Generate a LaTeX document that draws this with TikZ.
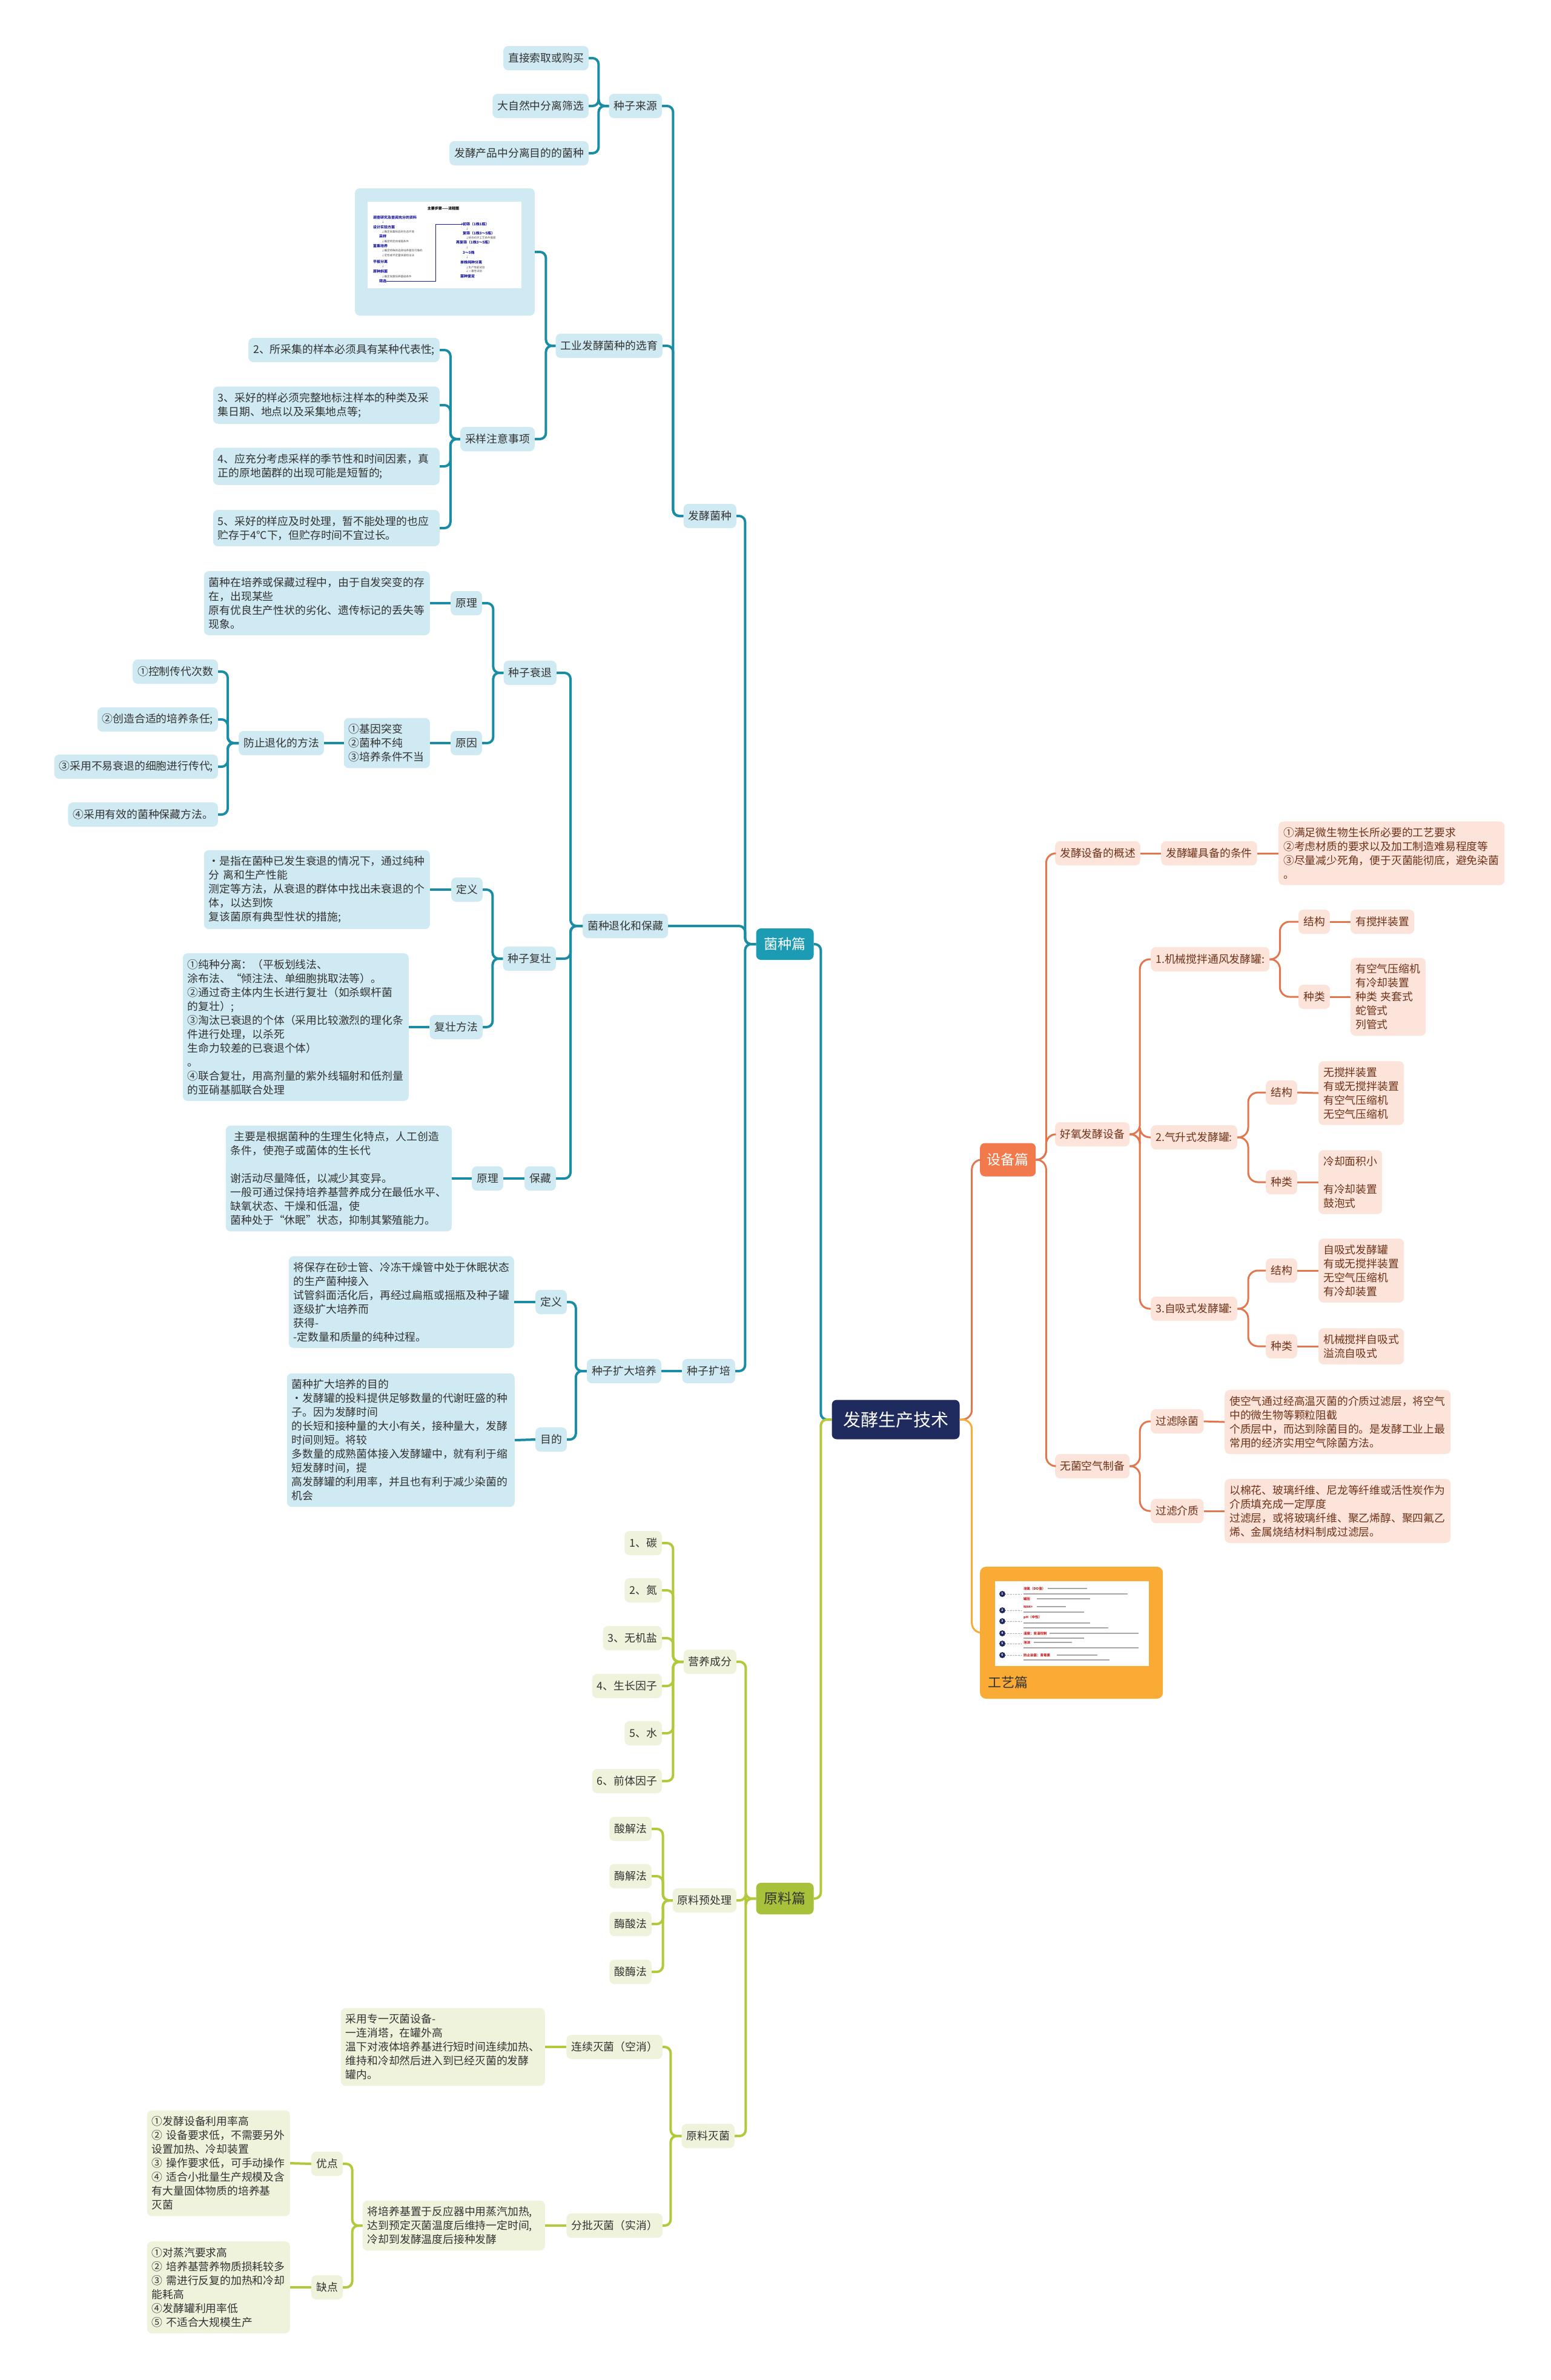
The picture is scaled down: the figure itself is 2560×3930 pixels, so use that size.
\documentclass[tikz,border=0pt]{standalone}
\usepackage{fontspec}
\setmainfont{Noto Sans CJK SC}
\definecolor{navy}{RGB}{31,43,94}
\definecolor{tealline}{RGB}{26,140,163}
\definecolor{tealmain}{RGB}{28,155,181}
\definecolor{tealfill}{RGB}{207,234,242}
\definecolor{orangeline}{RGB}{226,119,77}
\definecolor{orangemain}{RGB}{242,121,75}
\definecolor{orangefill}{RGB}{253,228,218}
\definecolor{orangetext}{RGB}{110,50,25}
\definecolor{greenline}{RGB}{179,200,58}
\definecolor{greenmain}{RGB}{167,193,58}
\definecolor{greenfill}{RGB}{239,243,220}
\definecolor{amber}{RGB}{249,171,54}
\definecolor{textdark}{RGB}{51,51,51}
\definecolor{flowblue}{RGB}{26,26,160}
\definecolor{flowred}{RGB}{200,30,30}
\begin{document}
\begin{tikzpicture}[x=1pt,y=-1pt,
  box/.style={rounded corners=8pt, inner xsep=8pt, inner ysep=0pt, minimum height=40pt, font=\fontsize{17.8}{23}\selectfont},
  tn/.style={box, fill=tealfill, text=textdark},
  tb/.style={tn, align=left, inner ysep=10pt},
  on/.style={box, fill=orangefill, text=orangetext},
  ob/.style={on, align=left, inner ysep=10pt},
  gn/.style={box, fill=greenfill, text=textdark},
  gb/.style={gn, align=left, inner ysep=10pt},
  tl/.style={draw=tealline, line width=4pt, rounded corners=10pt},
  ol/.style={draw=orangeline, line width=3pt, rounded corners=16pt},
  gl/.style={draw=greenline, line width=4pt, rounded corners=10pt},
  main/.style={rounded corners=8pt, minimum height=52pt, inner xsep=10pt, font=\fontsize{23}{28}\selectfont},
  fc/.style={text=flowblue, font=\fontsize{6}{7}\selectfont\bfseries, anchor=west, inner sep=0pt},
  fs/.style={text=black!70, font=\fontsize{4.5}{5}\selectfont, anchor=west, inner sep=0pt}
]
\useasboundingbox[fill=white] (0,0) rectangle (2560,3930);

% Centre and main branches
\node[main, fill=navy, text=white, minimum width=211pt, minimum height=65pt, font=\fontsize{29}{32}\selectfont] (zhongxin) at (1479,2344) {发酵生产技术};
\node[main, fill=tealmain, text=white, minimum width=95pt] (junzhong) at (1296,1559) {菌种篇};
\node[main, fill=orangemain, text=white, minimum width=92pt, minimum height=55pt, anchor=west] (shebei) at (1618,1915) {设备篇};
\node[main, fill=greenmain, text=textdark, minimum width=95pt] (yuanliao) at (1296,3135) {原料篇};
\node[fill=amber, rounded corners=10pt, minimum width=302pt, minimum height=218pt, anchor=west] (gongyi) at (1618,2696) {};

% 菌种篇
\node[tn, anchor=east] (fajiaojunzhong) at (1216,852) {发酵菌种};
\node[tn, anchor=east] (laiyuan) at (1093,175) {种子来源};
\node[tn, anchor=east] (suoqu) at (972,96) {直接索取或购买};
\node[tn, anchor=east] (ziran) at (972,175) {大自然中分离筛选};
\node[tn, anchor=east] (chanpin) at (972,253) {发酵产品中分离目的的菌种};
\node[tn, anchor=east] (xuanyu) at (1094,571) {工业发酵菌种的选育};
\node[tn, minimum width=297pt, minimum height=210pt] (liucheng) at (734.5,416) {};
\node[tn, anchor=east] (caiyang) at (883,725) {采样注意事项};
\node[tn, anchor=east] (cy2) at (726,578) {2、所采集的样本必须具有某种代表性;};
\node[tb, anchor=east, text width=358pt] (cy3) at (726,669) {3、采好的样必须完整地标注样本的种类及采\\集日期、地点以及采集地点等;};
\node[tb, anchor=east, text width=358pt] (cy4) at (726,770) {4、应充分考虑采样的季节性和时间因素，真\\正的原地菌群的出现可能是短暂的;};
\node[tb, anchor=east, text width=358pt] (cy5) at (726,872) {5、采好的样应及时处理，暂不能处理的也应\\贮存于4°C下，但贮存时间不宜过长。};

\node[tn, anchor=east] (tuihua) at (1103,1529) {菌种退化和保藏};
\node[tn, anchor=east] (shuaitui) at (919,1111) {种子衰退};
\node[tn, anchor=east] (yuanli) at (796,996) {原理};
\node[tb, anchor=east, text width=357pt] (yuanlitxt) at (710,996) {菌种在培养或保藏过程中，由于自发突变的存\\在，出现某些\\原有优良生产性状的劣化、遗传标记的丢失等\\现象。};
\node[tn, anchor=east] (yuanyin) at (796,1227) {原因};
\node[tb, anchor=east, text width=126pt] (yuanyintxt) at (710,1227) {①基因突变\\②菌种不纯\\③培养条件不当};
\node[tn, anchor=east] (fangzhi) at (535,1227) {防止退化的方法};
\node[tn, anchor=east] (fz1) at (360,1109) {①控制传代次数};
\node[tn, anchor=east] (fz2) at (360,1188) {②创造合适的培养条任;};
\node[tn, anchor=east] (fz3) at (360,1266) {③采用不易衰退的细胞进行传代;};
\node[tn, anchor=east] (fz4) at (360,1345) {④采用有效的菌种保藏方法。};
\node[tn, anchor=east] (fuzhuang) at (918,1583) {种子复壮};
\node[tn, anchor=east] (dingyi) at (797,1469) {定义};
\node[tb, anchor=east, text width=357pt] (dingyitxt) at (710,1469) {•是指在菌种已发生衰退的情况下，通过纯种\\分 离和生产性能\\测定等方法，从衰退的群体中找出未衰退的个\\体，以达到恢\\复该菌原有典型性状的措施;};
\node[tn, anchor=east] (fangfa) at (797,1696) {复壮方法};
\node[tb, anchor=east, text width=357pt] (fangfatxt) at (675,1696) {①纯种分离：（平板划线法、\\涂布法、“倾注法、单细胞挑取法等）。\\②通过奇主体内生长进行复壮（如杀螟杆菌\\的复壮）;\\③淘汰已衰退的个体（采用比较激烈的理化条\\件进行处理，以杀死\\生命力较差的已衰退个体）\\。\\④联合复壮，用高剂量的紫外线辐射和低剂量\\的亚硝基胍联合处理};
\node[tn, anchor=east] (baocang) at (918,1946) {保藏};
\node[tn, anchor=east] (bcyuanli) at (831,1946) {原理};
\node[tb, anchor=east, text width=357pt] (bcyuanlitxt) at (746,1946) {\ 主要是根据菌种的生理生化特点，人工创造\\条件，使孢子或菌体的生长代\\\mbox{}\\谢活动尽量降低，以减少其变异。\\一般可通过保持培养基营养成分在最低水平、\\缺氧状态、干燥和低温，使\\菌种处于“休眠”状态，抑制其繁殖能力。};

\node[tn, anchor=east] (kuopei) at (1214,2264) {种子扩培};
\node[tn, anchor=east] (kuoda) at (1092,2264) {种子扩大培养};
\node[tn, anchor=east] (kddingyi) at (936,2150) {定义};
\node[tb, anchor=east, text width=356pt] (kddingyitxt) at (849,2150) {将保存在砂士管、冷冻干燥管中处于休眠状态\\的生产菌种接入\\试管斜面活化后，再经过扁瓶或摇瓶及种子罐\\逐级扩大培养而\\获得-\\-定数量和质量的纯种过程。};
\node[tn, anchor=east] (mudi) at (936,2377) {目的};
\node[tb, anchor=east, text width=360pt] (muditxt) at (850,2378) {菌种扩大培养的目的\\•发酵罐的投料提供足够数量的代谢旺盛的种\\子。因为发酵时间\\的长短和接种量的大小有关，接种量大，发酵\\时间则短。将较\\多数量的成熟菌体接入发酵罐中，就有利于缩\\短发酵时间，提\\高发酵罐的利用率，并且也有利于减少染菌的\\机会};

% flow chart picture
\fill[white] (607,333) rectangle (861,476);
\node[inner sep=0pt, font=\fontsize{6}{7}\selectfont\bfseries] (lctitle) at (732,344) {主要步骤——流程图};
\node[fc] (lc1) at (616,359) {调查研究及查阅充分的资料};
\node[fs] at (630,367) {↓};
\node[fc] (lc2) at (616,375) {设计实验方案};
\node[fs] at (630,383) {↓确定采集样品的生态环境};
\node[fc] (lc3) at (626,390) {采样};
\node[fs] at (630,399) {↓确定特定的增殖条件};
\node[fc] (lc4) at (616,406) {富集培养};
\node[fs] at (630,414) {↓确定特殊的选择培养基及可靠的};
\node[fs] at (630,422) {↓定性或半定量快速检出法};
\node[fc] (lc5) at (616,432) {平板分离};
\node[fs] at (630,440) {↓};
\node[fc] (lc6) at (616,448) {原种斜面};
\node[fs] at (630,457) {↓确定发酵培养基础条件};
\node[fc] (lc7) at (626,464) {筛选};
\node[fc] (lc8) at (764,370) {初筛（1株1瓶）};
\node[fs] at (769,378) {↓};
\node[fc] (lc9) at (764,385) {复筛（1株3～5瓶）};
\node[fs] at (769,393) {↓结合初步工艺条件摸索};
\node[fc] (lc10) at (753,400) {再复筛（1株3～5瓶）};
\node[fs] at (769,409) {↓};
\node[fc] (lc11) at (764,417) {3～5株};
\node[fs] at (769,425) {↓};
\node[fc] (lc12) at (760,433) {单株纯种分离};
\node[fs] at (769,442) {↓生产性能试验};
\node[fs] at (769,448) {↓一毒性试验};
\node[fc] (lc13) at (760,456) {菌种鉴定};
\draw[flowblue, line width=0.7pt, ->] (lc7.east) -- (719,464) -- (719,370) -- (lc8.west);

% 设备篇
\node[on, anchor=west] (gaishu) at (1742,1409) {发酵设备的概述};
\node[on, anchor=west] (tiaojian) at (1917,1409) {发酵罐具备的条件};
\node[ob, anchor=west, text width=357pt] (tiaojiantxt) at (2111,1409) {①满足微生物生长所必要的工艺要求\\②考虑材质的要求以及加工制造难易程度等\\③尽量减少死角，便于灭菌能彻底，避免染菌\\。};
\node[on, anchor=west] (haoyang) at (1742,1873) {好氧发酵设备};
\node[on, anchor=west] (jixie) at (1900,1584) {1.机械搅拌通风发酵罐:};
\node[on, anchor=west] (jxjg) at (2144,1522) {结构};
\node[on, anchor=west] (jxjgtxt) at (2230,1522) {有搅拌装置};
\node[on, anchor=west] (jxzl) at (2144,1646) {种类};
\node[ob, anchor=west, text width=108pt] (jxzltxt) at (2230,1646) {有空气压缩机\\有冷却装置\\种类 夹套式\\蛇管式\\列管式};
\node[on, anchor=west] (qisheng) at (1900,1878) {2.气升式发酵罐:};
\node[on, anchor=west] (qsjg) at (2090,1804) {结构};
\node[ob, anchor=west, text width=125pt] (qsjgtxt) at (2177,1805) {无搅拌装置\\有或无搅拌装置\\有空气压缩机\\无空气压缩机};
\node[on, anchor=west] (qszl) at (2090,1952) {种类};
\node[ob, anchor=west, text width=89pt] (qszltxt) at (2177,1952) {冷却面积小\\\mbox{}\\有冷却装置\\鼓泡式};
\node[on, anchor=west] (zixi) at (1900,2161) {3.自吸式发酵罐:};
\node[on, anchor=west] (zxjg) at (2090,2098) {结构};
\node[ob, anchor=west, text width=125pt] (zxjgtxt) at (2177,2098) {自吸式发酵罐\\有或无搅拌装置\\无空气压缩机\\有冷却装置};
\node[on, anchor=west] (zxzl) at (2090,2223) {种类};
\node[ob, anchor=west, text width=125pt] (zxzltxt) at (2177,2223) {机械搅拌自吸式\\溢流自吸式};
\node[on, anchor=west] (wujun) at (1742,2421) {无菌空气制备};
\node[on, anchor=west] (guolv) at (1900,2347) {过滤除菌};
\node[ob, anchor=west, text width=357pt] (guolvtxt) at (2022,2348) {使空气通过经高温灭菌的介质过滤层，将空气\\中的微生物等颗粒阻截\\个质层中，而达到除菌目的。是发酵工业上最\\常用的经济实用空气除菌方法。};
\node[on, anchor=west] (jiezhi) at (1900,2495) {过滤介质};
\node[ob, anchor=west, text width=357pt] (jiezhitxt) at (2022,2495) {以棉花、玻璃纤维、尼龙等纤维或活性炭作为\\介质填充成一定厚度\\过滤层，或将玻璃纤维、聚乙烯醇、聚四氟乙\\烯、金属烧结材料制成过滤层。};

% 工艺篇 picture
\fill[white] (1643,2611) rectangle (1897,2751);
\foreach \n/\y in {1/2632,2/2659,3/2677,4/2697,5/2714,6/2733}{
  \draw[black!50, dotted, line width=0.6pt] (1660,\y) -- (1688,\y);
  \fill[navy] (1655,\y) circle (5);
  \node[text=white, inner sep=0pt, font=\fontsize{5}{5}\selectfont\bfseries] at (1655,\y) {\n};
}
\foreach \ya/\xa/\xb in {2623/1730/1795, 2632/1690/1862, 2640/1712/1800, 2653/1712/1760, 2662/1690/1790, 2680/1690/1800, 2688/1690/1830, 2697/1733/1880, 2705/1690/1790, 2712/1707/1770, 2721/1690/1880, 2733/1745/1812, 2741/1690/1832}
  \draw[black!35, line width=1.5pt] (\xa,\ya) -- (\xb,\ya);
\foreach \y/\t in {2623/溶氧（DO值）, 2640/罐压, 2653/NH4+, 2671/pH（中性）, 2697/温度：变温控制, 2712/泡沫, 2733/防止染菌：青霉素}
  \node[text=flowred, anchor=west, inner sep=0pt, font=\fontsize{5.5}{6}\selectfont\bfseries] at (1690,\y) {\t};
\node[anchor=west, inner sep=0pt, text=textdark, font=\fontsize{22}{24}\selectfont] (gongyilabel) at (1631,2778) {工艺篇};

% 原料篇
\node[gn, anchor=east] (yingyang) at (1216,2744) {营养成分};
\node[gn, anchor=east] (yy1) at (1093,2548) {1、碳};
\node[gn, anchor=east] (yy2) at (1093,2626) {2、氮};
\node[gn, anchor=east] (yy3) at (1093,2705) {3、无机盐};
\node[gn, anchor=east] (yy4) at (1093,2784) {4、生长因子};
\node[gn, anchor=east] (yy5) at (1093,2862) {5、水};
\node[gn, anchor=east] (yy6) at (1093,2941) {6、前体因子};
\node[gn, anchor=east] (yuchuli) at (1216,3138) {原料预处理};
\node[gn, anchor=east] (yc1) at (1076,3020) {酸解法};
\node[gn, anchor=east] (yc2) at (1076,3098) {酶解法};
\node[gn, anchor=east] (yc3) at (1076,3177) {酶酸法};
\node[gn, anchor=east] (yc4) at (1076,3256) {酸酶法};
\node[gn, anchor=east] (miejun) at (1213,3527) {原料灭菌};
\node[gn, anchor=east] (lianxu) at (1094,3380) {连续灭菌（空消）};
\node[gb, anchor=east, text width=321pt] (lianxutxt) at (900,3380) {采用专一灭菌设备-\\一连消塔，在罐外高\\温下对液体培养基进行短时间连续加热、\\维持和冷却然后进入到已经灭菌的发酵\\罐内。};
\node[gn, anchor=east] (fenpi) at (1094,3675) {分批灭菌（实消）};
\node[gb, anchor=east, text width=285pt] (fenpitxt) at (900,3675) {将培养基置于反应器中用蒸汽加热,\\达到预定灭菌温度后维持一定时间,\\冷却到发酵温度后接种发酵};
\node[gn, anchor=east] (youdian) at (566,3573) {优点};
\node[gb, anchor=east, text width=220pt] (youdiantxt) at (479,3572) {①发酵设备利用率高\\② 设备要求低，不需要另外\\设置加热、冷却装置\\③ 操作要求低，可手动操作\\④ 适合小批量生产规模及含\\有大量固体物质的培养基\\灭菌};
\node[gn, anchor=east] (quedian) at (566,3777) {缺点};
\node[gb, anchor=east, text width=220pt] (quediantxt) at (479,3777) {①对蒸汽要求高\\② 培养基营养物质损耗较多\\③ 需进行反复的加热和冷却\\能耗高\\④发酵罐利用率低\\⑤ 不适合大规模生产};

% Connectors: 菌种篇
\draw[tl] (zhongxin.west) -- ++(-18,0) |- (junzhong.east);
\foreach \c in {fajiaojunzhong,tuihua,kuopei} \draw[tl] (junzhong.west) -- ++(-18,0) |- (\c.east);
\foreach \c in {laiyuan,xuanyu} \draw[tl] (fajiaojunzhong.west) -- ++(-17,0) |- (\c.east);
\foreach \c in {suoqu,ziran,chanpin} \draw[tl] (laiyuan.west) -- ++(-17,0) |- (\c.east);
\foreach \c in {liucheng,caiyang} \draw[tl] (xuanyu.west) -- ++(-16,0) |- (\c.east);
\foreach \c in {cy2,cy3,cy4,cy5} \draw[tl] (caiyang.west) -- ++(-16,0) |- (\c.east);
\foreach \c in {shuaitui,fuzhuang,baocang} \draw[tl] (tuihua.west) -- ++(-20,0) |- (\c.east);
\foreach \c in {yuanli,yuanyin} \draw[tl] (shuaitui.west) -- ++(-17,0) |- (\c.east);
\draw[tl] (yuanli.west) -- (yuanlitxt.east);
\draw[tl] (yuanyin.west) -- (yuanyintxt.east);
\draw[tl] (yuanyintxt.west) -- (fangzhi.east);
\foreach \c in {fz1,fz2,fz3,fz4} \draw[tl] (fangzhi.west) -- ++(-18,0) |- (\c.east);
\foreach \c in {dingyi,fangfa} \draw[tl] (fuzhuang.west) -- ++(-17,0) |- (\c.east);
\draw[tl] (dingyi.west) -- (dingyitxt.east);
\draw[tl] (fangfa.west) -- (fangfatxt.east);
\draw[tl] (baocang.west) -- (bcyuanli.east);
\draw[tl] (bcyuanli.west) -- (bcyuanlitxt.east);
\draw[tl] (kuopei.west) -- (kuoda.east);
\foreach \c in {kddingyi,mudi} \draw[tl] (kuoda.west) -- ++(-18,0) |- (\c.east);
\draw[tl] (kddingyi.west) -- (kddingyitxt.east);
\draw[tl] (mudi.west) -- (muditxt.east);

% Connectors: 设备篇 and 工艺篇
\draw[ol] (zhongxin.east) -- ++(20,0) |- (shebei.west);
\draw[draw=amber, line width=3pt, rounded corners=16pt] (zhongxin.east) -- ++(20,0) |- (gongyi.west);
\foreach \c in {gaishu,haoyang,wujun} \draw[ol] (shebei.east) -- ++(17,0) |- (\c.west);
\draw[ol] (gaishu.east) -- (tiaojian.west);
\draw[ol] (tiaojian.east) -- (tiaojiantxt.west);
\foreach \c in {jixie,qisheng,zixi} \draw[ol] (haoyang.east) -- ++(17,0) |- (\c.west);
\foreach \c in {jxjg,jxzl} \draw[ol] (jixie.east) -- ++(17,0) |- (\c.west);
\draw[ol] (jxjg.east) -- (jxjgtxt.west);
\draw[ol] (jxzl.east) -- (jxzltxt.west);
\foreach \c in {qsjg,qszl} \draw[ol] (qisheng.east) -- ++(18,0) |- (\c.west);
\draw[ol] (qsjg.east) -- (qsjgtxt.west);
\draw[ol] (qszl.east) -- (qszltxt.west);
\foreach \c in {zxjg,zxzl} \draw[ol] (zixi.east) -- ++(18,0) |- (\c.west);
\draw[ol] (zxjg.east) -- (zxjgtxt.west);
\draw[ol] (zxzl.east) -- (zxzltxt.west);
\foreach \c in {guolv,jiezhi} \draw[ol] (wujun.east) -- ++(17,0) |- (\c.west);
\draw[ol] (guolv.east) -- (guolvtxt.west);
\draw[ol] (jiezhi.east) -- (jiezhitxt.west);

% Connectors: 原料篇
\draw[gl] (zhongxin.west) -- ++(-18,0) |- (yuanliao.east);
\foreach \c in {yingyang,yuchuli,miejun} \draw[gl] (yuanliao.west) -- ++(-17,0) |- (\c.east);
\foreach \c in {yy1,yy2,yy3,yy4,yy5,yy6} \draw[gl] (yingyang.west) -- ++(-17,0) |- (\c.east);
\foreach \c in {yc1,yc2,yc3,yc4} \draw[gl] (yuchuli.west) -- ++(-16,0) |- (\c.east);
\foreach \c in {lianxu,fenpi} \draw[gl] (miejun.west) -- ++(-18,0) |- (\c.east);
\draw[gl] (lianxu.west) -- (lianxutxt.east);
\draw[gl] (fenpi.west) -- (fenpitxt.east);
\foreach \c in {youdian,quedian} \draw[gl] (fenpitxt.west) -- ++(-17,0) |- (\c.east);
\draw[gl] (youdian.west) -- (youdiantxt.east);
\draw[gl] (quedian.west) -- (quediantxt.east);
\end{tikzpicture}
\end{document}
